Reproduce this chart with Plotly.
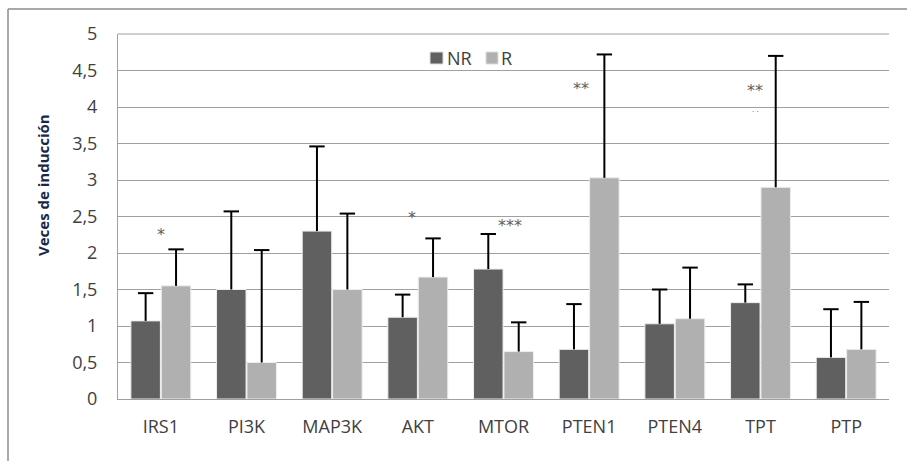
import plotly.graph_objects as go

categories = ["IRS1", "PI3K", "MAP3K", "AKT", "MTOR", "PTEN1", "PTEN4", "TPT", "PTP"]
nr_values = [1.07, 1.50, 2.30, 1.12, 1.78, 0.68, 1.03, 1.32, 0.57]
nr_err_top = [1.45, 2.57, 3.46, 1.43, 2.26, 1.30, 1.50, 1.57, 1.23]
r_values = [1.55, 0.50, 1.50, 1.67, 0.65, 3.03, 1.10, 2.90, 0.68]
r_err_top = [2.05, 2.04, 2.54, 2.20, 1.05, 4.72, 1.80, 4.70, 1.33]

sig_cats = ["IRS1", "AKT", "MTOR", "PTEN1", "TPT"]
sig_y = [2.26, 2.48, 2.38, 4.25, 4.22]
sig_text = ["*", "*", "***", "**", "**"]
sig_dx = [0.0, -0.07, 0.08, -0.1, -0.06]

nr_err = [t - v for t, v in zip(nr_err_top, nr_values)]
r_err = [t - v for t, v in zip(r_err_top, r_values)]

FONT = "'Open Sans', sans-serif"
L, R, T, B = 118, 18, 34, 62
PW, PH = 907 - L - R, 461 - T - B
BARGAP = 0.29
xi = list(range(len(categories)))
half = (1 - BARGAP) / 4  # centre offset of each bar inside its group


def px(x):
    return (x - L) / PW


def py(y):
    return (461 - B - y) / PH


fig = go.Figure()
fig.add_trace(go.Bar(
    name="NR", x=xi, y=nr_values, showlegend=False,
    marker=dict(color="#606060", line=dict(color="#ededed", width=1)),
    error_y=dict(type="data", symmetric=False, array=nr_err, arrayminus=[0] * len(nr_err),
                 color="black", thickness=2, width=0),
))
fig.add_trace(go.Bar(
    name="R", x=xi, y=r_values, showlegend=False,
    marker=dict(color="#b0b0b0", line=dict(color="#ededed", width=1)),
    error_y=dict(type="data", symmetric=False, array=r_err, arrayminus=[0] * len(r_err),
                 color="black", thickness=2, width=0),
))
# error-bar caps (top only)
for tops, sign in [(nr_err_top, -1), (r_err_top, 1)]:
    fig.add_trace(go.Scatter(
        x=[i + sign * half for i in xi], y=tops, mode="markers", showlegend=False, hoverinfo="skip",
        marker=dict(symbol="line-ew", size=11, line=dict(color="black", width=2)),
    ))

for cat, yv, txt, dx in zip(sig_cats, sig_y, sig_text, sig_dx):
    fig.add_annotation(x=categories.index(cat) + dx, y=yv, text=txt, showarrow=False,
                       xref="x", yref="y", font=dict(size=16, color="#606060", family="DejaVu Sans"))
# faint dots under the TPT asterisks
fig.add_annotation(x=categories.index("TPT") - 0.06, y=3.96, text=". .", showarrow=False, xref="x", yref="y",
                   font=dict(size=7, color="#555555", family="DejaVu Sans"))

# y-axis title
fig.add_annotation(x=px(43), y=py(185), xref="paper", yref="paper", text="<b>Veces de inducción</b>",
                   textangle=-90, showarrow=False, xanchor="center", yanchor="middle",
                   font=dict(size=15, color="#17284a", family=FONT))

# compact legend
for x0, x1, col, label, tx in [(430, 443, "#606060", "NR", 445), (486, 498, "#b0b0b0", "R", 499)]:
    fig.add_shape(type="rect", xref="paper", yref="paper", x0=px(x0), x1=px(x1), y0=py(64), y1=py(52),
                  fillcolor=col, line=dict(color="#dddddd", width=1))
    fig.add_annotation(x=px(tx), y=py(58), xref="paper", yref="paper", text=label, showarrow=False,
                       xanchor="left", yanchor="middle", font=dict(size=18, color="#404040", family=FONT))

# outer chart frame
fig.add_shape(type="line", xref="paper", yref="paper", x0=px(8), x1=px(8), y0=py(9), y1=py(475),
              line=dict(color="#8c8c8c", width=1.5))
fig.add_shape(type="line", xref="paper", yref="paper", x0=px(8), x1=px(920), y0=py(9), y1=py(9),
              line=dict(color="#8c8c8c", width=1.5))
fig.add_shape(type="line", xref="paper", yref="paper", x0=0, x1=1, y0=1, y1=1,
              line=dict(color="#a0a0a0", width=1))

fig.update_layout(
    width=907, height=461,
    margin=dict(l=L, r=R, t=T, b=B),
    paper_bgcolor="white", plot_bgcolor="white",
    separators=",.",
    barmode="group", bargap=BARGAP, bargroupgap=0.03,
    font=dict(family=FONT, size=18, color="#404040"),
    showlegend=False,
    xaxis=dict(range=[-0.5, len(categories) - 0.5], tickmode="array", tickvals=xi, ticktext=categories,
               showgrid=False, showline=True, linecolor="#a0a0a0", linewidth=1, automargin=False,
               zeroline=False, ticks="", ticklabelstandoff=11, tickfont=dict(size=18, color="#404040")),
    yaxis=dict(range=[0, 5], dtick=0.5, tick0=0, showgrid=True, gridcolor="#a0a0a0", gridwidth=1,
               showline=True, linecolor="#a0a0a0", linewidth=1, zeroline=False, automargin=False,
               ticks="", ticklabelstandoff=16, tickfont=dict(size=18, color="#404040")),
)

fig.write_html("out.html", config={"displayModeBar": False},
               post_script="document.body.style.margin='0';document.body.style.padding='0';")
